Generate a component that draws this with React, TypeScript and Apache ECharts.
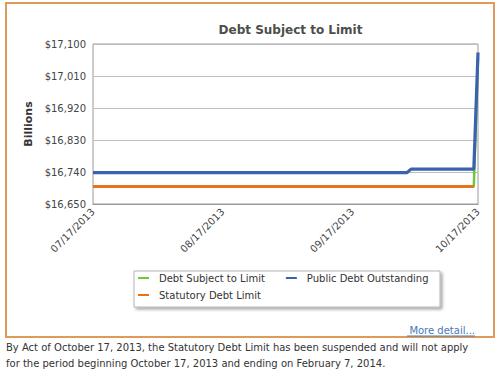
import React, { useEffect, useRef } from "react";
import * as echarts from "echarts";

// ---- data (Billions of dollars) ----
const tickDates = ["2013-07-17", "2013-08-17", "2013-09-17", "2013-10-17"];
const yTicks = [16650, 16740, 16830, 16920, 17010, 17100];

const publicDebtDates = ["2013-07-17", "2013-08-15", "2013-09-30", "2013-10-01", "2013-10-16", "2013-10-17"];
const publicDebtValues = [16738, 16738, 16738, 16748, 16748, 17076];

const subjectDates = ["2013-07-17", "2013-10-16", "2013-10-17"];
const subjectValues = [16699.4, 16699.4, 17060];

const limitDates = ["2013-07-17", "2013-10-16"];
const limitValues = [16699.4, 16699.4];

const titleText = "Debt Subject to Limit";
const footLine1 = "By Act of October 17, 2013, the Statutory Debt Limit has been suspended and will not apply";
const footLine2 = "for the period beginning October 17, 2013 and ending on February 7, 2014.";

const toTs = (s: string) => {
  const [y, m, d] = s.split("-").map(Number);
  return new Date(y, m - 1, d).getTime();
};
const pairs = (ds: string[], vs: number[]) => ds.map((d, i) => [toTs(d), vs[i]]);
const pad = (n: number) => (n < 10 ? "0" + n : "" + n);
const fmtDate = (v: number) => {
  const d = new Date(v);
  return pad(d.getMonth() + 1) + "/" + pad(d.getDate()) + "/" + d.getFullYear();
};

const FONT = "DejaVu Sans";

export default function App() {
  const ref = useRef<HTMLDivElement>(null);
  useEffect(() => {
    document.body.style.margin = "0";
    const chart = echarts.init(ref.current!, null, { renderer: "svg" });
    const green = "#6cc93a";
    const blue = "#3a62ad";
    const orange = "#e8731f";
    chart.setOption({
      animation: false,
      backgroundColor: "#ffffff",
      textStyle: { fontFamily: FONT },
      title: {
        text: titleText,
        left: 285.5,
        textAlign: "center",
        top: 19,
        textStyle: { fontFamily: FONT, fontSize: 12, fontWeight: "bold", color: "#4a4f4a" },
      },
      grid: {
        left: 93,
        right: 22,
        top: 44,
        bottom: 168,
        show: true,
        borderColor: "#9a9a9a",
        borderWidth: 1,
      },
      legend: [
        {
          left: 138,
          top: 273,
          orient: "horizontal",
          data: ["Debt Subject to Limit", "Public Debt Outstanding"],
          icon: "rect",
          itemWidth: 11,
          itemHeight: 2,
          itemGap: 21,
          padding: 0,
          textStyle: { fontFamily: FONT, fontSize: 10, color: "#333", padding: [0, 0, 0, 5] },
        },
        {
          left: 138,
          top: 290,
          orient: "horizontal",
          data: ["Statutory Debt Limit"],
          icon: "rect",
          itemWidth: 11,
          itemHeight: 2,
          padding: 0,
          textStyle: { fontFamily: FONT, fontSize: 10, color: "#333", padding: [0, 0, 0, 5] },
        },
      ],
      xAxis: {
        type: "value",
        min: toTs(tickDates[0]),
        max: toTs(tickDates[tickDates.length - 1]),
        axisLine: { show: true, lineStyle: { color: "#9a9a9a" } },
        axisTick: { show: false },
        splitLine: { show: false },
        axisLabel: {
          customValues: tickDates.map(toTs),
          rotate: 45,
          margin: 6,
          fontSize: 10,
          fontFamily: FONT,
          color: "#444",
          formatter: (v: number) => fmtDate(v),
          hideOverlap: false,
        },
      },
      yAxis: {
        type: "value",
        min: yTicks[0],
        max: yTicks[yTicks.length - 1],
        interval: 90,
        name: "Billions",
        nameLocation: "middle",
        nameRotate: 90,
        nameGap: 59,
        nameTextStyle: { fontFamily: FONT, fontSize: 11, fontWeight: "bold", color: "#333" },
        axisLine: { show: false },
        axisTick: { show: false },
        splitLine: { show: true, lineStyle: { color: "#bdbdbd" } },
        axisLabel: {
          margin: 7,
          fontSize: 10,
          fontFamily: FONT,
          color: "#444",
          formatter: (v: number) => "$" + v.toLocaleString("en-US"),
        },
      },
      series: [
        {
          name: "Debt Subject to Limit",
          type: "line",
          data: pairs(subjectDates, subjectValues),
          showSymbol: false,
          symbol: "none",
          lineStyle: { color: green, width: 2.5 },
          itemStyle: { color: green },
          z: 2,
        },
        {
          name: "Statutory Debt Limit",
          type: "line",
          data: pairs(limitDates, limitValues),
          showSymbol: false,
          symbol: "none",
          lineStyle: { color: orange, width: 3 },
          itemStyle: { color: orange },
          z: 3,
        },
        {
          name: "Public Debt Outstanding",
          type: "line",
          data: pairs(publicDebtDates, publicDebtValues),
          showSymbol: false,
          symbol: "none",
          lineStyle: { color: blue, width: 3.2 },
          itemStyle: { color: blue },
          z: 4,
        },
      ],
      graphic: [
        {
          type: "rect",
          shape: { x: 6, y: 3, width: 488, height: 334 },
          style: { fill: "none", stroke: "#df9a58", lineWidth: 2 },
          silent: true,
          z: -1,
        },
        {
          type: "rect",
          shape: { x: 134, y: 271, width: 306, height: 36 },
          style: {
            fill: "#ffffff",
            stroke: "#b5b5b5",
            lineWidth: 1,
            shadowBlur: 3,
            shadowOffsetX: 2,
            shadowOffsetY: 2,
            shadowColor: "rgba(0,0,0,0.35)",
          },
          silent: true,
          z: -1,
        },
        {
          type: "text",
          x: 475,
          y: 330,
          style: {
            text: "More detail...",
            fontFamily: FONT,
            fontSize: 10,
            fill: "#4a78b5",
            textAlign: "right",
            textVerticalAlign: "middle",
          },
        },
        {
          type: "line",
          shape: { x1: 407, y1: 336, x2: 475, y2: 336 },
          style: { stroke: "#4a78b5", lineWidth: 1 },
        },
        {
          type: "text",
          x: 6,
          y: 347,
          style: {
            text: footLine1,
            fontFamily: FONT,
            fontSize: 10,
            fill: "#333",
            textVerticalAlign: "middle",
          },
        },
        {
          type: "text",
          x: 6,
          y: 363,
          style: {
            text: footLine2,
            fontFamily: FONT,
            fontSize: 10,
            fill: "#333",
            textVerticalAlign: "middle",
          },
        },
      ],
    });
    return () => chart.dispose();
  }, []);
  return <div ref={ref} style={{ width: 500, height: 372 }} />;
}
